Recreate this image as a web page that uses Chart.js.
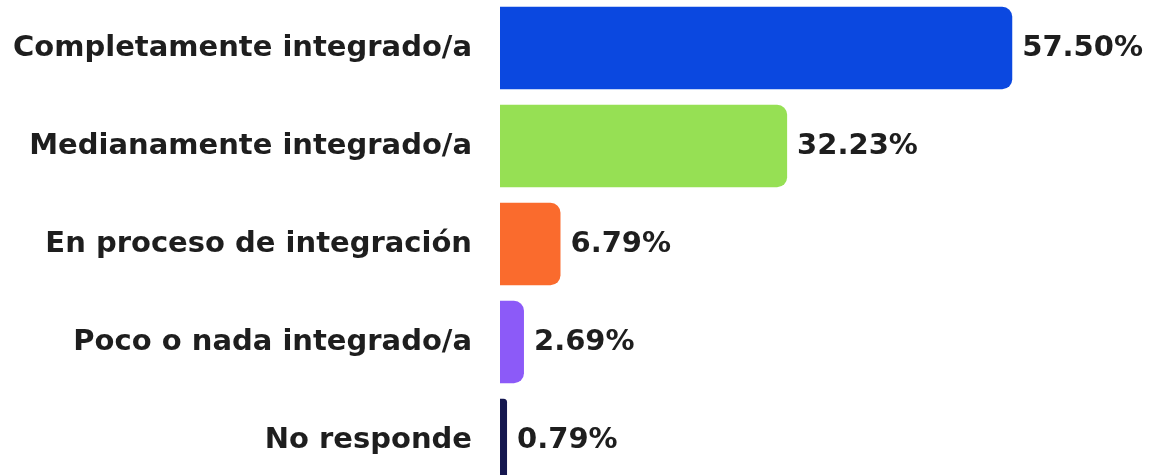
<!DOCTYPE html>
<html lang="es">
<head>
  <meta charset="UTF-8" />
  <title>Grado de integración</title>
  <script src="https://cdn.jsdelivr.net/npm/chart.js"></script>
  <style>
    html, body { margin: 0; padding: 0; background: #fff; overflow: hidden; }
    .chart-box { position: absolute; top: -1px; left: 0; width: 1153px; height: 490px; }
  </style>
</head>
<body>
  <div class="chart-box">
    <canvas id="chartIntegracion"></canvas>
  </div>

  <script>
    const categorias = [
      'Completamente integrado/a',
      'Medianamente integrado/a',
      'En proceso de integración',
      'Poco o nada integrado/a',
      'No responde'
    ];
    const porcentajes = [57.50, 32.23, 6.79, 2.69, 0.79];
    const etiquetas = ['57.50%', '32.23%', '6.79%', '2.69%', '0.79%'];
    const colores = ['#0b48e0', '#96e054', '#fa6b2d', '#8c5af8', '#15174f'];

    const fuente = { family: 'DejaVu Sans', size: 29, weight: 'bold' };

    // etiquetas de valor al final de cada barra
    const valoresPlugin = {
      id: 'valores',
      afterDatasetsDraw(chart) {
        const ctx = chart.ctx;
        const meta = chart.getDatasetMeta(0);
        ctx.save();
        ctx.font = 'bold 29px "DejaVu Sans"';
        ctx.fillStyle = '#1e1e1e';
        ctx.textAlign = 'left';
        ctx.textBaseline = 'middle';
        meta.data.forEach((bar, i) => {
          ctx.fillText(etiquetas[i], bar.x + 10, bar.y);
        });
        ctx.restore();
      }
    };

    new Chart(document.getElementById('chartIntegracion'), {
      type: 'bar',
      data: {
        labels: categorias,
        datasets: [{
          data: porcentajes,
          backgroundColor: colores,
          borderRadius: 10,
          borderSkipped: 'start',
          categoryPercentage: 1,
          barPercentage: 0.84
        }]
      },
      options: {
        indexAxis: 'y',
        responsive: true,
        maintainAspectRatio: false,
        animation: false,
        layout: { padding: 0 },
        plugins: {
          legend: { display: false },
          tooltip: { enabled: false }
        },
        scales: {
          x: {
            display: false,
            min: 0,
            max: 73.3
          },
          y: {
            grid: { display: false, drawTicks: false },
            border: { display: false },
            ticks: {
              color: '#1e1e1e',
              font: fuente,
              padding: 28
            },
            afterFit(scale) {
              scale.width = 500;
              scale.paddingTop = 0;
              scale.paddingBottom = 0;
            }
          }
        }
      },
      plugins: [valoresPlugin]
    });
  </script>
</body>
</html>
